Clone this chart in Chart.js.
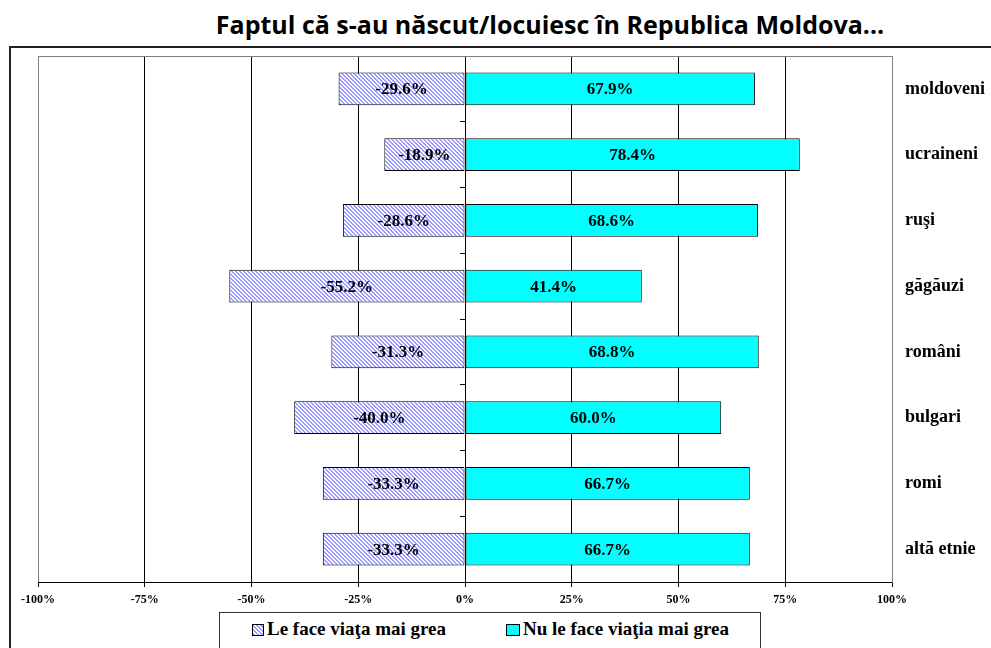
<!DOCTYPE html>
<html>
<head>
<meta charset="utf-8">
<script src="https://cdn.jsdelivr.net/npm/chart.js@4.4.1/dist/chart.umd.min.js"></script>
<style>
  body { margin:0; background:#fff; }
  #wrap { position:relative; width:991px; height:648px; overflow:hidden; }
  #title { position:absolute; left:0; width:1100px; top:7px; text-align:center;
           font-family:"Open Sans", sans-serif; font-weight:700; font-size:25px; color:#000; white-space:nowrap; }
  #frame { position:absolute; left:9px; top:46px; width:1020px; height:640px; border:2px solid #222; box-sizing:border-box; }
  #chartBox { position:absolute; left:0; top:0; width:991px; height:648px; }
  #legend { position:absolute; left:219px; top:612px; width:540px; height:50px; border:1px solid #333; background:#fff;
            font-family:"Liberation Serif", serif; font-weight:700; font-size:19px; color:#000; }
  .item { position:absolute; top:5px; white-space:nowrap; }
  .sw { display:inline-block; width:10px; height:10px; border:1px solid #000; vertical-align:-1px; margin-right:3px; }
  .hatch { background:repeating-linear-gradient(45deg, #9999ff 0 1.5px, #fff 1.5px 3px); }
  .cyan { background:#00ffff; width:12px; height:10px; }
</style>
</head>
<body>
<div id="wrap">
  <div id="title">Faptul că s-au născut/locuiesc în Republica Moldova…</div>
  <div id="frame"></div>
  <div id="chartBox"><canvas id="c"></canvas></div>
  <div id="legend">
    <span class="item" style="left:32px"><span class="sw hatch"></span>Le face viaţa mai grea</span>
    <span class="item" style="left:286px"><span class="sw cyan"></span>Nu le face viaţia mai grea</span>
  </div>
</div>
<script>
const CATEGORIES = ["moldoveni", "ucraineni", "ruşi", "găgăuzi", "români", "bulgari", "romi", "altă etnie"];
const HARDER = [-29.6, -18.9, -28.6, -55.2, -31.3, -40.0, -33.3, -33.3];
const NOT_HARDER = [67.9, 78.4, 68.6, 41.4, 68.8, 60.0, 66.7, 66.7];
const SERIES_NAMES = ["Le face viaţa mai grea", "Nu le face viaţia mai grea"];

function hatchPattern(){
  const p = document.createElement("canvas");
  p.width = 4; p.height = 4;
  const g = p.getContext("2d");
  g.fillStyle = "#ffffff"; g.fillRect(0,0,4,4);
  g.fillStyle = "#9999ff";
  for(let y=0; y<4; y++){
    for(let x=0; x<4; x++){
      const d = ((x - y) % 4 + 4) % 4;
      if(d===0 || d===1) g.fillRect(x,y,1,1);
    }
  }
  return g.createPattern(p, "repeat");
}

const serif = "'Liberation Serif', 'Times New Roman', serif";

// value labels centred in each bar
const barLabels = {
  id: "barLabels",
  afterDatasetsDraw(chart){
    const ctx = chart.ctx;
    ctx.save();
    ctx.font = "bold 17px " + serif;
    ctx.fillStyle = "#000";
    ctx.textAlign = "center";
    ctx.textBaseline = "middle";
    chart.data.datasets.forEach((ds, i) => {
      chart.getDatasetMeta(i).data.forEach((bar, j) => {
        const v = ds.data[j];
        ctx.fillText(v.toFixed(1) + "%", (bar.x + bar.base)/2, bar.y + 1);
      });
    });
    ctx.restore();
  }
};

// grey top edge of the plot area
const plotEdge = {
  id: "plotEdge",
  beforeDatasetsDraw(chart){
    const a = chart.chartArea, ctx = chart.ctx;
    ctx.save();
    ctx.strokeStyle = "#808080"; ctx.lineWidth = 1;
    ctx.beginPath(); ctx.moveTo(a.left, a.top + 0.5); ctx.lineTo(a.right, a.top + 0.5); ctx.stroke();
    ctx.restore();
  }
};

new Chart(document.getElementById("c"), {
  type: "bar",
  data: {
    labels: CATEGORIES,
    datasets: [
      { label: SERIES_NAMES[0], data: HARDER, backgroundColor: hatchPattern(), borderColor: "#000", borderWidth: 1, borderSkipped: false },
      { label: SERIES_NAMES[1], data: NOT_HARDER, backgroundColor: "#00ffff", borderColor: "#000", borderWidth: 1, borderSkipped: false }
    ]
  },
  options: {
    indexAxis: "y",
    responsive: true,
    maintainAspectRatio: false,
    animation: false,
    datasets: { bar: { categoryPercentage: 1, barPercentage: 0.5 } },
    layout: { padding: { left: 38, top: 56, right: 0, bottom: 0 } },
    plugins: { legend: { display: false }, tooltip: { enabled: false }, title: { display: false } },
    scales: {
      x: {
        stacked: true, min: -100, max: 100,
        afterFit(s){ s.height = 66; },
        ticks: { stepSize: 25, padding: 6, color: "#000", maxRotation: 0,
                 font: { family: serif, size: 12, weight: "bold" }, callback: v => v + "%" },
        grid: { color: c => Math.abs(c.tick.value) === 100 ? "#808080" : "#000", tickColor: "#000", tickLength: 5, lineWidth: 1 },
        border: { color: "#000", width: 1 }
      },
      y: {
        stacked: true, position: "right",
        afterFit(s){ s.width = 99; },
        ticks: { padding: 13, color: "#000", font: { family: serif, size: 18, weight: "bold" } },
        grid: { display: false, drawTicks: false },
        border: { color: "#808080", width: 1 }
      },
      y2: {
        axis: "y", type: "category", labels: CATEGORIES, position: { x: 0 },
        ticks: { display: false },
        grid: { drawOnChartArea: false, drawTicks: true, tickLength: 5, color: "#000" },
        border: { color: "#000", width: 1 }
      }
    }
  },
  plugins: [barLabels, plotEdge]
});
</script>
</body>
</html>
